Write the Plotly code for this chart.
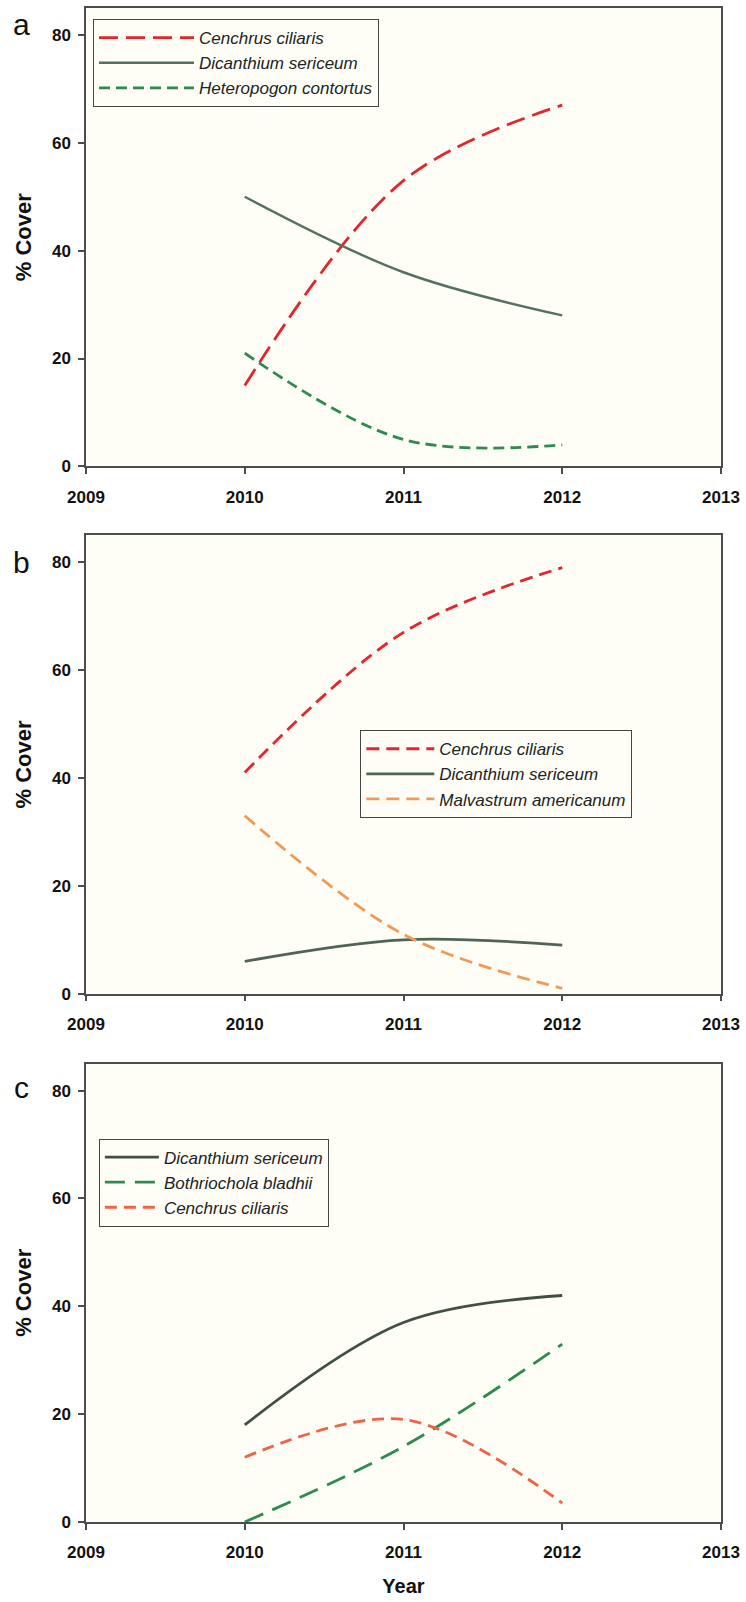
import plotly.graph_objects as go

# ---------------- data ----------------
years = [2010, 2011, 2012]

# Panel a
a_cenchrus = [15, 53, 67]
a_dicanthium = [50, 36, 28]
a_heteropogon = [21, 5, 4]

# Panel b
b_cenchrus = [41, 67, 79]
b_dicanthium = [6, 10, 9]
b_malvastrum = [33, 11, 1]

# Panel c
c_dicanthium = [18, 37, 42]
c_bothriochola = [0, 14, 33]
c_cenchrus = [12, 19, 3.5]

x_ticks = [2009, 2010, 2011, 2012, 2013]
y_ticks = [0, 20, 40, 60, 80]
panel_labels = ["a", "b", "c"]

# ---------------- styling ----------------
FONT = "Liberation Sans, Arial, sans-serif"
AXC = "#4d4d4d"
PLOTBG = "#FEFEF6"

RED = "#E3262B"
DIC_A = "#53725B"
DIC_B = "#4E6552"
DIC_C = "#414F45"
HET = "#2F8A4F"
MAL = "#F29A55"
BOT = "#2D8B4F"
CEN_C = "#EE6447"

fig = go.Figure()


def add(y, name, color, dash, ax, leg, width=2.8):
    fig.add_trace(go.Scatter(
        x=years, y=y, name=name, mode="lines",
        line=dict(color=color, width=width, dash=dash, shape="spline"),
        xaxis="x" + ax, yaxis="y" + ax, legend=leg,
    ))


add(a_cenchrus, "Cenchrus ciliaris", RED, "19px,8px", "", "legend")
add(a_dicanthium, "Dicanthium sericeum", DIC_A, "solid", "", "legend", 2.4)
add(a_heteropogon, "Heteropogon contortus", HET, "11px,6px", "", "legend")

add(b_cenchrus, "Cenchrus ciliaris", RED, "13px,7px", "2", "legend2")
add(b_dicanthium, "Dicanthium sericeum", DIC_B, "solid", "2", "legend2")
add(b_malvastrum, "Malvastrum americanum", MAL, "13px,7px", "2", "legend2")

add(c_dicanthium, "Dicanthium sericeum", DIC_C, "solid", "3", "legend3")
add(c_bothriochola, "Bothriochola bladhii", BOT, "20px,10px", "3", "legend3")
add(c_cenchrus, "Cenchrus ciliaris", CEN_C, "12px,7px", "3", "legend3")

tickfont = dict(family=FONT, size=17, color="#111", weight="bold")
common = dict(showline=True, linecolor=AXC, linewidth=1.5, mirror=True,
              ticks="outside", ticklen=6, tickwidth=1.5, tickcolor=AXC,
              showgrid=False, zeroline=False, tickfont=tickfont)

domains = [[0.69723, 1.0], [0.34894, 0.65172], [0.0, 0.30277]]
suffixes = ["", "2", "3"]

layout = dict(
    width=746, height=1602,
    margin=dict(l=86, r=21, t=6, b=80),
    paper_bgcolor="white", plot_bgcolor=PLOTBG,
    font=dict(family=FONT, color="#111"),
    showlegend=True,
)

for i, s in enumerate(suffixes):
    xa = dict(common, range=[2009, 2013], tickvals=x_ticks, tickformat="d",
              ticklabelstandoff=8, ticklabeloverflow="allow",
              anchor="y" + s, domain=[0, 1])
    ya = dict(common, range=[0, 85], tickvals=y_ticks, ticklabelstandoff=4,
              anchor="x" + s, domain=domains[i],
              title=dict(text="% Cover", standoff=14,
                         font=dict(family=FONT, size=22, color="#111", weight="bold")))
    if s == "3":
        xa["title"] = dict(text="Year", standoff=18,
                           font=dict(family=FONT, size=20, color="#111", weight="bold"))
    layout["xaxis" + s] = xa
    layout["yaxis" + s] = ya

legfont = dict(family=FONT, size=17, color="#222", style="italic")
legcommon = dict(font=legfont, bgcolor="rgba(0,0,0,0)", bordercolor="#444",
                 borderwidth=1, xanchor="left", yanchor="top", traceorder="normal")
layout["legend"] = dict(legcommon, x=0.011, y=0.9927, itemwidth=95)
layout["legend2"] = dict(legcommon, x=0.432, y=0.523, itemwidth=68)
layout["legend3"] = dict(legcommon, x=0.0203, y=0.2533, itemwidth=54)

label_y = [0.98912, 0.63357, 0.28727]
annotations = []
for lab, yy in zip(panel_labels, label_y):
    annotations.append(dict(text=lab, xref="paper", yref="paper", x=-0.1017, y=yy,
                            xanchor="center", yanchor="middle", showarrow=False,
                            font=dict(family=FONT, size=30, color="#111")))
layout["annotations"] = annotations

fig.update_layout(**layout)
fig.write_html(
    "out.html",
    config={"displayModeBar": False},
    post_script="document.body.style.margin='0';document.body.style.overflow='hidden';",
)
